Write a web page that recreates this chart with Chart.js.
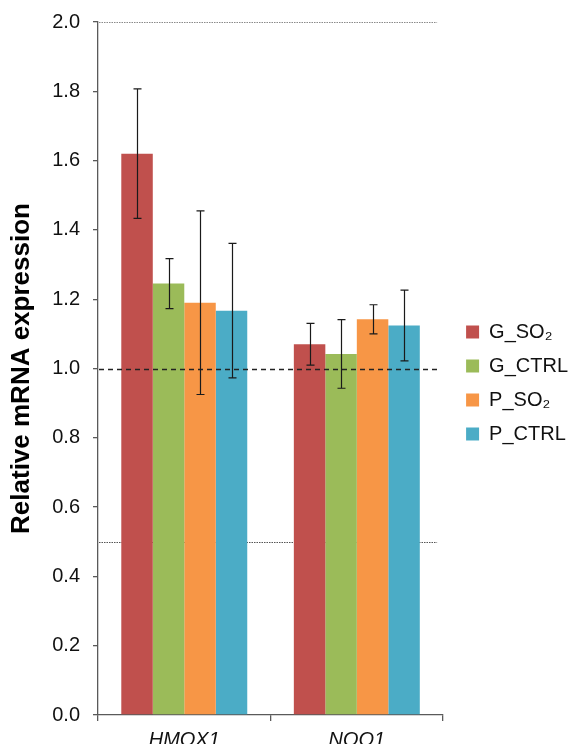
<!DOCTYPE html>
<html>
<head>
<meta charset="utf-8">
<script src="https://cdn.jsdelivr.net/npm/chart.js@4.4.0/dist/chart.umd.min.js"></script>
<style>
  html, body { margin: 0; padding: 0; background: #ffffff; }
  #wrap { width: 580px; height: 750px; }
</style>
</head>
<body>
<div id="wrap"><canvas id="c" width="580" height="750"></canvas></div>
<script>
// ---- data ----
const categories = ['HMOX1', 'NQO1'];
const seriesNames = ['G_SO\u2082', 'G_CTRL', 'P_SO\u2082', 'P_CTRL'];
const gSO2  = [1.62, 1.07];
const gCTRL = [1.245, 1.042];
const pSO2  = [1.19, 1.142];
const pCTRL = [1.167, 1.124];
const gSO2Err  = [0.187, 0.060];
const gCTRLErr = [0.072, 0.099];
const pSO2Err  = [0.265, 0.042];
const pCTRLErr = [0.194, 0.102];
const yMin = 0, yMax = 2.0, yStep = 0.2;
const refDotted = [2.0, 0.5];
const refDashed = [1.0];

const colors = ['#C0504D', '#9BBB59', '#F79646', '#4BACC6'];
const values = [gSO2, gCTRL, pSO2, pCTRL];
const errors = [gSO2Err, gCTRLErr, pSO2Err, pCTRLErr];

const FONT = "'Liberation Sans', Arial, sans-serif";

const refLinesBehind = {
  id: 'refLinesBehind',
  beforeDatasetsDraw(chart) {
    const {ctx, chartArea, scales: {y}} = chart;
    ctx.save();
    refDotted.forEach((v, i) => {
      const py = Math.round(y.getPixelForValue(v)) + 0.5;
      ctx.strokeStyle = i === 0 ? '#8a8a8a' : '#555555';
      ctx.lineWidth = 1;
      ctx.setLineDash([1.5, 1]);
      ctx.beginPath();
      ctx.moveTo(chartArea.left + 1, py);
      ctx.lineTo(chartArea.right - 6, py);
      ctx.stroke();
    });
    ctx.restore();
  }
};

const refLinesFront = {
  id: 'refLinesFront',
  afterDatasetsDraw(chart) {
    const {ctx, chartArea, scales: {y}} = chart;
    ctx.save();
    refDashed.forEach(v => {
      const py = Math.round(y.getPixelForValue(v)) + 0.5;
      ctx.strokeStyle = '#222222';
      ctx.lineWidth = 1.3;
      ctx.setLineDash([5, 4]);
      ctx.beginPath();
      ctx.moveTo(chartArea.left + 1, py);
      ctx.lineTo(chartArea.right - 6, py);
      ctx.stroke();
    });
    ctx.setLineDash([]);
    // error bars
    chart.data.datasets.forEach((ds, i) => {
      const meta = chart.getDatasetMeta(i);
      meta.data.forEach((bar, j) => {
        const v = ds.data[j];
        const e = errors[i][j];
        const x = Math.round(bar.x) + 0.5;
        const yt = y.getPixelForValue(v + e);
        const yb = y.getPixelForValue(v - e);
        ctx.strokeStyle = '#1a1a1a';
        ctx.lineWidth = 1.2;
        ctx.beginPath();
        ctx.moveTo(x, yt); ctx.lineTo(x, yb);
        ctx.moveTo(x - 4, yt); ctx.lineTo(x + 4, yt);
        ctx.moveTo(x - 4, yb); ctx.lineTo(x + 4, yb);
        ctx.stroke();
      });
    });
    ctx.restore();
  }
};

new Chart(document.getElementById('c'), {
  type: 'bar',
  data: {
    labels: categories,
    datasets: seriesNames.map((name, i) => ({
      label: name,
      data: values[i],
      backgroundColor: colors[i],
      borderWidth: 0,
      categoryPercentage: 0.73,
      barPercentage: 1.0
    }))
  },
  options: {
    responsive: false,
    animation: false,
    devicePixelRatio: 1,
    layout: { padding: { left: 0, right: 2, top: 22, bottom: 6 } },
    plugins: {
      tooltip: { enabled: false },
      legend: {
        display: true,
        position: 'right',
        align: 'center',
        maxWidth: 200,
        labels: {
          boxWidth: 13,
          boxHeight: 13,
          padding: 14,
          color: '#111111',
          font: { family: FONT, size: 20 }
        }
      }
    },
    scales: {
      x: {
        offset: true,
        grid: { offset: true, drawOnChartArea: false, drawTicks: true, tickLength: 6, color: '#5a5a5a', lineWidth: 1.3 },
        border: { display: true, color: '#5a5a5a', width: 1.3 },
        ticks: { color: '#111111', padding: 7, font: { family: FONT, size: 20, style: 'italic' } },
        afterFit: s => { s.height = 29; }
      },
      y: {
        min: yMin,
        max: yMax,
        grid: { drawOnChartArea: false, drawTicks: true, tickLength: 5, color: '#5a5a5a', lineWidth: 1.3 },
        border: { display: true, color: '#5a5a5a', width: 1.3 },
        ticks: {
          stepSize: yStep,
          padding: 13,
          color: '#111111',
          font: { family: FONT, size: 20 },
          callback: v => Number(v).toFixed(1)
        },
        title: {
          display: true,
          text: 'Relative mRNA expression',
          color: '#000000',
          padding: { top: 6, bottom: 0 },
          font: { family: FONT, size: 26, weight: 'bold' }
        },
        afterFit: s => { s.width = 98; s.paddingTop = 0; s.paddingBottom = 0; }
      },
      gap: {
        type: 'linear',
        position: 'right',
        display: true,
        grid: { display: false, drawTicks: false },
        border: { display: false },
        ticks: { display: false },
        afterFit: s => { s.width = 9; s.paddingTop = 0; s.paddingBottom = 0; }
      }
    }
  },
  plugins: [refLinesBehind, refLinesFront]
});
</script>
</body>
</html>
